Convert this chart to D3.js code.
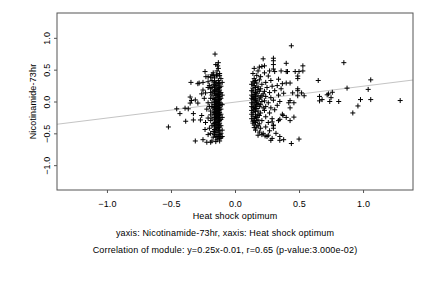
<!DOCTYPE html>
<html><head><meta charset="utf-8">
<script src="https://cdn.jsdelivr.net/npm/d3@7"></script>
<style>html,body{margin:0;padding:0;background:#fff;}svg{display:block;}text{font-family:"Liberation Sans",Arial,sans-serif;fill:#000;letter-spacing:0.15px;}</style>
</head><body><svg id="c" width="432" height="288"></svg>
<script>
const xTicks = [-1.0, -0.5, 0.0, 0.5, 1.0];
const yTicks = [-1.0, -0.5, 0.0, 0.5, 1.0];
const xLabel = "Heat shock optimum";
const yLabel = "Nicotinamide-73hr";
const caption1 = "yaxis: Nicotinamide-73hr, xaxis: Heat shock optimum";
const caption2 = "Correlation of module: y=0.25x-0.01, r=0.65 (p-value:3.000e-02)";
const slope = 0.25, intercept = -0.01;

// left scatter
const leftPts = [[-0.234,0.47],[-0.227,0.39],[-0.344,0.30],[-0.29,0.28],[-0.25,0.30],[-0.25,0.18],[-0.26,0.12],[-0.23,0.135],
[-0.35,0.07],[-0.34,0.015],[-0.31,0.025],[-0.35,-0.025],[-0.29,-0.025],[-0.455,-0.115],[-0.39,-0.105],[-0.365,-0.115],
[-0.43,-0.19],[-0.325,-0.19],[-0.26,-0.22],[-0.27,-0.29],[-0.325,-0.29],[-0.385,-0.31],[-0.52,-0.40],[-0.234,-0.44],
[-0.31,-0.62],[-0.25,-0.60],[-0.22,-0.64],[-0.19,-0.64],[-0.18,-0.62],[-0.15,-0.63],[-0.156,0.745],[-0.13,0.61],[-0.135,0.56],
[-0.21,0.39],[-0.17,0.41],[-0.145,0.42],[-0.28,0.29],[-0.24,0.05],[-0.22,-0.12],[-0.21,0.22],[-0.23,-0.33],[-0.21,-0.52]];
// dense column near x=-0.15
const col1Pts = [[-0.15,0.58],[-0.13,0.52],[-0.17,0.45],[-0.12,0.44],[-0.14,0.40],[-0.16,0.37],[-0.11,0.36],[-0.18,0.33],[-0.13,0.33],[-0.15,0.30],
[-0.12,0.29],[-0.17,0.27],[-0.14,0.26],[-0.11,0.24],[-0.16,0.23],[-0.13,0.21],[-0.19,0.20],[-0.15,0.19],[-0.12,0.18],[-0.17,0.16],
[-0.14,0.15],[-0.11,0.14],[-0.16,0.12],[-0.13,0.11],[-0.18,0.10],[-0.15,0.09],[-0.12,0.08],[-0.14,0.06],[-0.17,0.05],[-0.11,0.05],
[-0.16,0.03],[-0.13,0.02],[-0.15,0.00],[-0.12,-0.01],[-0.18,-0.02],[-0.14,-0.03],[-0.11,-0.04],[-0.16,-0.05],[-0.13,-0.06],[-0.15,-0.08],
[-0.12,-0.09],[-0.17,-0.10],[-0.14,-0.11],[-0.11,-0.12],[-0.16,-0.13],[-0.13,-0.14],[-0.19,-0.15],[-0.15,-0.16],[-0.12,-0.17],[-0.17,-0.18],
[-0.14,-0.19],[-0.11,-0.20],[-0.16,-0.21],[-0.13,-0.22],[-0.15,-0.24],[-0.12,-0.25],[-0.18,-0.26],[-0.14,-0.27],[-0.11,-0.28],[-0.16,-0.29],
[-0.13,-0.31],[-0.15,-0.33],[-0.12,-0.34],[-0.17,-0.35],[-0.14,-0.37],[-0.11,-0.38],[-0.16,-0.40],[-0.13,-0.41],[-0.15,-0.43],[-0.12,-0.45],
[-0.17,-0.47],[-0.14,-0.48],[-0.11,-0.50],[-0.16,-0.52],[-0.13,-0.54],[-0.15,-0.56],[-0.12,-0.58],[-0.14,-0.60],[-0.12,-0.62],
[-0.14,0.48],[-0.12,0.41],[-0.16,0.31],[-0.13,0.28],[-0.15,0.25],[-0.12,0.22],[-0.14,0.20],[-0.16,0.17],[-0.13,0.16],[-0.15,0.13],
[-0.12,0.12],[-0.14,0.10],[-0.13,0.07],[-0.15,0.04],[-0.12,0.03],[-0.14,0.01],[-0.16,-0.01],[-0.13,-0.02],[-0.15,-0.04],[-0.12,-0.06],
[-0.14,-0.07],[-0.16,-0.09],[-0.13,-0.10],[-0.15,-0.12],[-0.12,-0.13],[-0.14,-0.15],[-0.16,-0.17],[-0.13,-0.18],[-0.15,-0.20],[-0.12,-0.21],
[-0.14,-0.23],[-0.16,-0.25],[-0.13,-0.26],[-0.15,-0.28],[-0.12,-0.30],[-0.14,-0.32],[-0.16,-0.34],[-0.13,-0.36],[-0.15,-0.38],[-0.12,-0.40],
[-0.14,-0.42],[-0.16,-0.44],[-0.13,-0.46],[-0.15,-0.49],[-0.12,-0.52],[-0.14,-0.55],[-0.11,-0.57],
[-0.10,0.30],[-0.10,0.10],[-0.10,-0.05],[-0.10,-0.25],[-0.10,-0.45],[-0.10,-0.55],[-0.20,0.25],[-0.19,0.05],[-0.20,-0.08],[-0.19,-0.30],[-0.20,-0.42],[-0.19,0.38],
[-0.18,0.22],[-0.19,0.14],[-0.18,-0.08],[-0.19,-0.21],[-0.18,-0.38],[-0.19,-0.50],[-0.17,-0.56],[-0.18,0.42],[-0.21,0.31],[-0.21,-0.02],[-0.21,-0.26]];
// cluster near x=0.17
const col2Pts = [[0.15,0.52],[0.18,0.48],[0.14,0.44],[0.17,0.41],[0.20,0.39],[0.15,0.36],[0.19,0.34],[0.14,0.31],[0.17,0.29],[0.21,0.27],
[0.15,0.25],[0.18,0.23],[0.14,0.21],[0.20,0.20],[0.16,0.18],[0.19,0.16],[0.14,0.15],[0.17,0.13],[0.22,0.12],[0.15,0.11],
[0.18,0.09],[0.14,0.08],[0.20,0.07],[0.16,0.05],[0.19,0.04],[0.14,0.03],[0.17,0.01],[0.21,0.00],[0.15,-0.01],[0.18,-0.03],
[0.14,-0.04],[0.20,-0.05],[0.16,-0.07],[0.19,-0.08],[0.14,-0.10],[0.17,-0.11],[0.15,-0.13],[0.18,-0.15],[0.14,-0.17],[0.20,-0.18],
[0.16,-0.20],[0.19,-0.22],[0.14,-0.23],[0.17,-0.25],[0.15,-0.27],[0.18,-0.29],[0.14,-0.31],[0.16,-0.33],[0.19,-0.35],[0.15,-0.37],
[0.17,-0.40],[0.20,-0.42],[0.16,-0.45],[0.19,-0.48],[0.22,-0.50],[0.18,-0.53],
[0.16,0.33],[0.13,0.27],[0.16,0.22],[0.13,0.17],[0.16,0.14],[0.13,0.10],[0.16,0.08],[0.13,0.05],[0.16,0.02],[0.13,-0.02],
[0.17,-0.05],[0.13,-0.08],[0.16,-0.11],[0.13,-0.14],[0.16,-0.16],[0.13,-0.20],[0.16,-0.24],[0.13,-0.27],[0.17,-0.30],[0.14,-0.34],
[0.18,-0.38],[0.15,-0.41],
[0.23,0.45],[0.26,0.40],[0.24,0.30],[0.28,0.33],[0.25,0.22],[0.29,0.24],[0.23,0.16],[0.27,0.14],[0.31,0.17],[0.24,0.08],
[0.28,0.06],[0.23,0.01],[0.26,-0.02],[0.30,0.02],[0.24,-0.08],[0.28,-0.10],[0.23,-0.14],[0.27,-0.18],[0.31,-0.13],[0.24,-0.24],
[0.29,-0.27],[0.26,-0.33],[0.30,-0.38],[0.24,-0.40],[0.27,-0.46],[0.32,-0.50],[0.25,-0.55],[0.29,-0.58],[0.35,-0.55],[0.38,-0.60],
[0.22,0.67],[0.30,0.68],[0.30,0.64],[0.19,0.54],[0.21,0.55],[0.23,0.56],[0.27,0.48],[0.30,0.51],[0.31,0.47],[0.36,0.48],
[0.40,0.47],[0.34,0.35],[0.37,0.28],[0.33,0.25],[0.36,0.20],[0.34,0.10],[0.38,0.13],[0.35,0.00],[0.33,-0.06],[0.37,-0.20],
[0.34,-0.30],[0.40,-0.25],[0.21,-0.52],[0.235,-0.54],[0.26,-0.53],[0.28,-0.61],[0.35,-0.61],[0.30,-0.42],[0.35,-0.28],[0.375,-0.22],[0.29,-0.32],[0.30,-0.37],
[0.15,0.06],[0.17,-0.02],[0.15,-0.09],[0.18,0.19],[0.15,0.29],[0.18,-0.21],[0.15,-0.30],[0.21,0.09],[0.22,-0.10],[0.21,-0.30]];
// right scatter
const rightPts = [[0.44,0.875],[0.85,0.61],[0.65,0.33],[1.06,0.34],[0.53,0.56],[0.53,0.48],[0.50,0.47],[0.47,0.47],[0.41,0.47],
[0.49,0.36],[0.49,0.40],[0.40,0.29],[0.43,0.29],[0.49,0.20],[0.49,0.17],[0.45,0.135],[0.52,0.135],[0.54,0.09],[0.49,0.09],
[0.875,0.21],[1.04,0.19],[0.76,0.145],[0.73,0.12],[0.72,0.105],[0.75,0.06],[0.66,0.08],[0.68,0.03],[0.66,0.01],[0.74,0.0],
[0.81,0.0],[0.98,0.03],[1.06,0.03],[0.96,-0.07],[0.92,-0.18],[0.43,0.015],[0.46,-0.02],[0.42,-0.02],[0.43,-0.10],[0.46,-0.245],
[0.43,-0.30],[0.44,-0.66],[0.50,-0.59],[1.29,0.015],[0.30,0.58],[0.40,0.60]];

const points = leftPts.concat(col1Pts, col2Pts, rightPts);

const svg = d3.select("#c");
const L = 57, R = 413, T = 13, B = 190;
const FS = 9;
const x = d3.scaleLinear().domain([-1.39, 1.39]).range([L, R]);
const y = d3.scaleLinear().domain([-1.39, 1.39]).range([B, T]);

// regression line
svg.append("line")
  .attr("x1", x(-1.39)).attr("y1", y(slope * -1.39 + intercept))
  .attr("x2", x(1.39)).attr("y2", y(slope * 1.39 + intercept))
  .attr("stroke", "#c4c4c4").attr("stroke-width", 1);

// points
svg.append("g").selectAll("path").data(points).join("path")
  .attr("transform", d => `translate(${x(d[0])},${y(d[1])})`)
  .attr("d", "M-2.5,0H2.5M0,-2.5V2.5")
  .attr("stroke", "#000").attr("stroke-width", 1).attr("fill", "none");

// frame
svg.append("rect").attr("x", L).attr("y", T).attr("width", R - L).attr("height", B - T)
  .attr("fill", "none").attr("stroke", "#555").attr("stroke-width", 1);

// x axis
const xAxis = svg.append("g").attr("transform", `translate(0,${B})`)
  .call(d3.axisBottom(x).tickValues(xTicks).tickFormat(d3.format(".1f")).tickSize(3).tickPadding(8));
xAxis.select(".domain").remove();
xAxis.selectAll("line").attr("stroke", "#555");
xAxis.selectAll("text").attr("font-size", FS).style("font-family", '"Liberation Sans",Arial,sans-serif');

// y axis
const yAxis = svg.append("g").attr("transform", `translate(${L},0)`)
  .call(d3.axisLeft(y).tickValues(yTicks).tickFormat(d3.format(".1f")).tickSize(3));
yAxis.select(".domain").remove();
yAxis.selectAll("line").attr("stroke", "#555");
yAxis.selectAll("text")
  .attr("x", null).attr("dy", null)
  .attr("text-anchor", "middle")
  .attr("dominant-baseline", "central")
  .attr("transform", "translate(-10,0) rotate(-90)")
  .attr("font-size", FS).style("font-family", '"Liberation Sans",Arial,sans-serif');

// titles
svg.append("text").attr("x", (L + R) / 2).attr("y", 216).attr("text-anchor", "middle")
  .attr("dominant-baseline", "central").attr("font-size", FS).text(xLabel);
svg.append("text").attr("transform", `translate(33,${(T + B) / 2}) rotate(-90)`).attr("text-anchor", "middle")
  .attr("dominant-baseline", "central").attr("font-size", FS).text(yLabel);
svg.append("text").attr("x", 225).attr("y", 233).attr("text-anchor", "middle")
  .attr("dominant-baseline", "central").attr("font-size", FS).text(caption1);
svg.append("text").attr("x", 225).attr("y", 250).attr("text-anchor", "middle")
  .attr("dominant-baseline", "central").attr("font-size", FS).text(caption2);
</script></body></html>
